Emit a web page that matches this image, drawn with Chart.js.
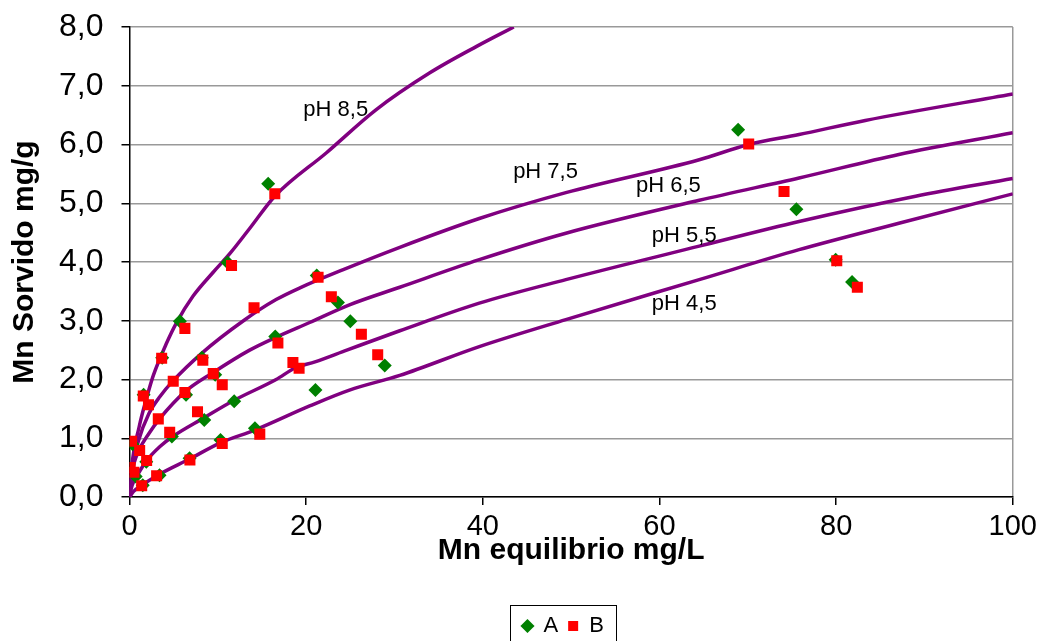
<!DOCTYPE html>
<html>
<head>
<meta charset="utf-8">
<script src="https://cdn.jsdelivr.net/npm/chart.js@4.4.1/dist/chart.umd.min.js"></script>
<style>
  html, body { margin: 0; padding: 0; background: #fff; }
  #wrap { width: 1042px; height: 641px; }
</style>
</head>
<body>
<div id="wrap"><canvas id="chart"></canvas></div>
<script>
// measured points, [Mn equilibrio, Mn sorvido]
const pointsA = [
  [0.35, 0.9], [0.7, 0.35], [1.5, 0.2], [1.9, 0.6], [1.6, 1.74], [3.4, 0.37],
  [3.7, 2.37], [4.8, 1.03], [5.7, 2.99], [6.4, 1.74], [6.8, 0.66], [8.2, 2.37],
  [8.46, 1.31], [9.7, 2.08], [10.3, 0.97], [11.1, 3.99], [11.85, 1.63], [14.2, 1.17],
  [15.7, 5.33], [16.5, 2.73], [21.05, 1.82], [21.2, 3.77], [23.6, 3.31], [25.0, 2.99],
  [28.9, 2.24], [68.9, 6.25], [75.5, 4.9], [79.95, 4.04], [81.8, 3.66]
];
const pointsB = [
  [0.24, 0.95], [0.08, 0.5], [0.5, 0.42], [1.15, 0.79], [1.94, 0.62], [1.38, 0.19],
  [1.56, 1.72], [2.15, 1.57], [3.26, 1.33], [3.07, 0.36], [3.64, 2.36], [4.95, 1.97],
  [4.55, 1.1], [6.27, 2.87], [6.27, 1.78], [7.7, 1.45], [6.84, 0.63], [8.3, 2.33],
  [9.48, 2.1], [10.5, 1.91], [10.5, 0.91], [11.55, 3.94], [14.1, 3.22], [14.75, 1.07],
  [16.45, 5.16], [16.8, 2.62], [18.5, 2.29], [19.2, 2.19], [21.35, 3.74], [22.85, 3.41],
  [26.25, 2.77], [28.1, 2.42], [70.1, 6.01], [74.1, 5.2], [80.07, 4.02], [82.4, 3.57]
];

// isotherm curves
const ph85 = [[0, 0], [0.24, 0.5], [1.1, 1.2], [2.0, 1.72], [2.7, 2.07], [4.2, 2.62], [5.3, 2.96],
  [7.2, 3.42], [9.5, 3.83], [11.4, 4.15], [13.6, 4.57], [16.45, 5.12], [22.3, 5.86],
  [27.9, 6.59], [34.0, 7.22], [39.3, 7.67], [43.5, 8.0]];
const ph75 = [[0, 0], [0.3, 0.5], [1.0, 0.95], [2.2, 1.42], [3.45, 1.71], [4.95, 1.98], [8.2, 2.45],
  [12.9, 3.0], [16.6, 3.36], [19.3, 3.56], [24.2, 3.87], [30.6, 4.25], [39.6, 4.74], [49.4, 5.18],
  [64.5, 5.74], [70.1, 6.0], [75.8, 6.17], [83.3, 6.41], [100, 6.86]];
const ph65 = [[0, 0], [0.3, 0.42], [1.1, 0.8], [2.2, 1.08], [3.4, 1.33], [6.27, 1.79], [9.48, 2.12],
  [13.6, 2.5], [16.6, 2.72], [20.4, 2.97], [24.9, 3.27], [30.6, 3.57], [39.6, 4.04], [49.4, 4.49],
  [64.5, 5.05], [75.8, 5.43], [87.1, 5.83], [100, 6.2]];
const ph55 = [[0, 0], [0.3, 0.2], [1.0, 0.4], [1.94, 0.62], [3.45, 0.86], [4.9, 1.03], [8.35, 1.34],
  [11.9, 1.65], [16.6, 2.0], [18.8, 2.2], [21, 2.3], [24.6, 2.5], [30.6, 2.83], [39.6, 3.3],
  [49.4, 3.7], [64.5, 4.27], [75.8, 4.69], [89, 5.12], [100, 5.42]];
const ph45 = [[0, 0], [0.5, 0.1], [1.38, 0.2], [3.3, 0.38], [6.84, 0.65], [10.4, 0.93], [14.2, 1.14],
  [20.4, 1.55], [24.9, 1.82], [30.6, 2.07], [39.6, 2.56], [49.4, 3.02], [64.5, 3.7], [75.8, 4.21],
  [87.1, 4.66], [100, 5.16]];

const curveNames = ["pH 8,5", "pH 7,5", "pH 6,5", "pH 5,5", "pH 4,5"];
const curves = [ph85, ph75, ph65, ph55, ph45];
const yTickLabels = ["0,0", "1,0", "2,0", "3,0", "4,0", "5,0", "6,0", "7,0", "8,0"];
const xTickLabels = ["0", "20", "40", "60", "80", "100"];

const toXY = arr => arr.map(p => ({ x: p[0], y: p[1] }));
const FONT = "'Liberation Sans', Arial, sans-serif";

// where the pH captions sit, in data units
const captionAt = [[23.35, 6.59], [47.1, 5.54], [61.0, 5.3], [62.8, 4.45], [62.8, 3.29]];

const captions = {
  id: "captions",
  afterDatasetsDraw(chart) {
    const { ctx, scales: { x, y } } = chart;
    ctx.save();
    ctx.font = "22px " + FONT;
    ctx.fillStyle = "#000";
    ctx.textAlign = "center";
    ctx.textBaseline = "middle";
    curveNames.forEach((t, i) => {
      ctx.fillText(t, x.getPixelForValue(captionAt[i][0]), y.getPixelForValue(captionAt[i][1]));
    });
    ctx.restore();
  }
};

// nudge the legend a bit and frame it like the original
const legendBox = {
  id: "legendBox",
  afterLayout(chart) {
    const lg = chart.legend;
    lg.left -= 8; lg.right -= 8;
    lg.top += 6; lg.bottom += 6;
  },
  afterDraw(chart) {
    const lg = chart.legend;
    const cx = (lg.left + lg.right) / 2;
    const cy = lg.top + 21;
    const ctx = chart.ctx;
    ctx.save();
    ctx.strokeStyle = "#000";
    ctx.lineWidth = 1;
    ctx.strokeRect(Math.round(cx - 53) + 0.5, Math.round(cy - 21) + 0.5, 106, 36);
    ctx.restore();
  }
};

const datasets = [
  {
    label: "A", data: toXY(pointsA), order: 2,
    pointStyle: "rectRot", pointRadius: 7, pointHoverRadius: 7,
    backgroundColor: "#008000", borderColor: "#008000", borderWidth: 0, showLine: false
  },
  {
    label: "B", data: toXY(pointsB), order: 1,
    pointStyle: "rect", pointRadius: 7.8, pointHoverRadius: 7.8,
    backgroundColor: "#ff0000", borderColor: "#ff0000", borderWidth: 0, showLine: false
  }
];
curves.forEach((c, i) => {
  datasets.push({
    label: curveNames[i], data: toXY(c), order: 3,
    showLine: true, borderColor: "#800080", borderWidth: 3.5,
    pointRadius: 0, cubicInterpolationMode: "monotone", fill: false
  });
});

new Chart(document.getElementById("chart"), {
  type: "scatter",
  data: { datasets },
  plugins: [captions, legendBox],
  options: {
    responsive: true,
    maintainAspectRatio: false,
    animation: false,
    layout: { padding: { left: 0, right: 28, top: 27, bottom: 0 } },
    plugins: {
      tooltip: { enabled: false },
      legend: {
        position: "bottom",
        fullSize: false,
        labels: {
          filter: item => item.text === "A" || item.text === "B",
          sort: (a, b) => a.datasetIndex - b.datasetIndex,
          usePointStyle: true,
          boxWidth: 10, boxHeight: 10,
          padding: 10,
          color: "#000",
          font: { family: FONT, size: 22 }
        }
      }
    },
    scales: {
      x: {
        type: "linear", min: 0, max: 100,
        afterFit: s => { s.height = 102; },
        ticks: {
          stepSize: 20, padding: 5, color: "#000",
          font: { family: FONT, size: 29 },
          callback: (v, i) => xTickLabels[i]
        },
        grid: {
          drawOnChartArea: true,
          color: c => (c.tick && c.tick.value === 100 ? "#999" : "rgba(0,0,0,0)"),
          tickColor: "#000", tickLength: 8, lineWidth: 1.5
        },
        border: { color: "#000", width: 1.5 },
        title: {
          display: true, text: "Mn equilibrio mg/L", color: "#000",
          font: { family: FONT, size: 30, weight: "bold" },
          padding: { top: 0, bottom: 30 }
        }
      },
      y: {
        type: "linear", min: 0, max: 8,
        afterFit: s => { s.width = 129.5; s.paddingTop = 0; s.paddingBottom = 0; },
        ticks: {
          stepSize: 1, padding: 18, color: "#000",
          font: { family: FONT, size: 32 },
          callback: (v, i) => yTickLabels[i]
        },
        grid: { color: "#999", tickColor: "#000", tickLength: 8, lineWidth: 1.5 },
        border: { color: "#000", width: 1.5 },
        title: {
          display: true, text: "Mn Sorvido mg/g", color: "#000",
          font: { family: FONT, size: 30, weight: "bold" },
          padding: { top: 7, bottom: 0 }
        }
      }
    }
  }
});
</script>
</body>
</html>
